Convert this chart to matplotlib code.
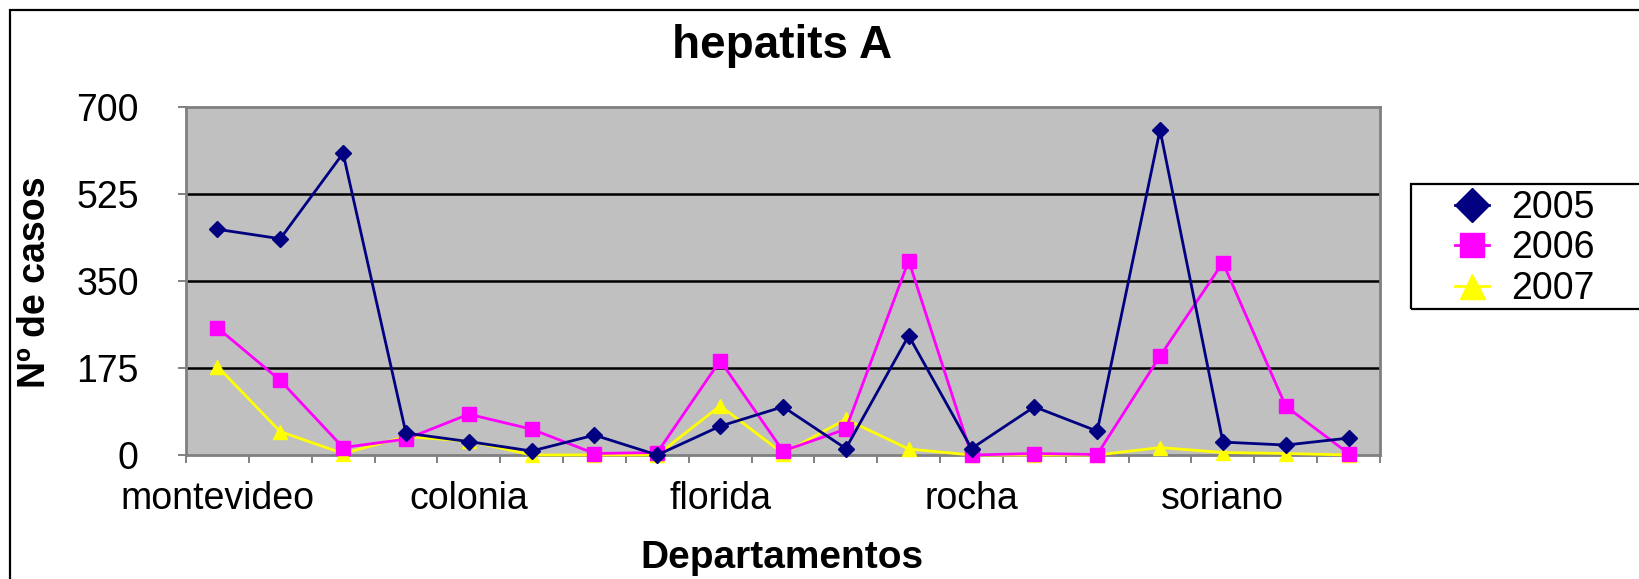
import matplotlib
matplotlib.use('Agg')
import matplotlib.pyplot as plt
from matplotlib.patches import Rectangle
import numpy as np

plt.rcParams['font.family'] = ['Liberation Sans', 'DejaVu Sans']

# ---- data ----
departamentos = ['montevideo', '', '', '', 'colonia', '', '', '', 'florida', '', '', '',
                 'rocha', '', '', '', 'soriano', '', '']
casos_2005 = [454, 435, 607, 44, 27, 8, 40, 0, 58, 97, 13, 240, 13, 97, 48, 654, 26, 20, 34]
casos_2006 = [256, 150, 15, 32, 82, 52, 3, 5, 190, 8, 52, 391, 0, 3, 1, 199, 387, 98, 3]
casos_2007 = [178, 47, 3, 37, 28, 0, 0, 0, 99, 3, 72, 12, 0, 0, 0, 15, 5, 3, 0]
anios = ['2005', '2006', '2007']
y_ticks = [0, 175, 350, 525, 700]

W, H = 1639, 579
fig = plt.figure(figsize=(W / 100, H / 100), dpi=100)
fig.patch.set_facecolor('white')

# outer chart border (cut off at right / bottom like the reference)
fig.add_artist(Rectangle((10 / W, -0.2), 2.0, 1.2 - 10 / H, transform=fig.transFigure,
                         fill=False, edgecolor='black', lw=1.6))

left, right = 186 / W, 1380 / W
bottom, top = 1 - 455 / H, 1 - 107 / H
ax = fig.add_axes([left, bottom, right - left, top - bottom])
ax.set_facecolor('#C0C0C0')

x = np.arange(len(departamentos))
series = [casos_2005, casos_2006, casos_2007]
colors = ['#000080', '#FF00FF', '#FFFF00']
markers = ['D', 's', '^']
msizes = [8.2, 9.6, 10.5]
zorders = [6, 5, 4]
lines = []
for vals, c, m, ms, z, lab in zip(series, colors, markers, msizes, zorders, anios):
    ln, = ax.plot(x, vals, color=c, marker=m, markersize=ms, markerfacecolor=c,
                  markeredgecolor=c, lw=2.0, zorder=z, clip_on=False, label=lab)
    lines.append(ln)

ax.set_xlim(-0.5, len(departamentos) - 0.5)
ax.set_ylim(0, 700)
ax.set_yticks(y_ticks)
ax.set_yticklabels([str(v) for v in y_ticks])
for v in y_ticks[1:-1]:
    ax.axhline(v, color='black', lw=1.8, zorder=1)

ax.set_xticks(x)
ax.set_xticklabels(departamentos)
ax.set_xticks(np.arange(-0.5, len(departamentos)), minor=True)
ax.tick_params(axis='x', which='major', length=0, pad=19, labelsize=27)
ax.tick_params(axis='x', which='minor', length=6, width=1.4, color='#808080', direction='out')
ax.tick_params(axis='y', which='major', length=6, width=1.4, color='#808080',
               direction='out', pad=28, labelsize=27)

for s in ax.spines.values():
    s.set_color('#808080')
    s.set_linewidth(2.0)

fig.text(782 / W, 1 - 46 / H, 'hepatits A', ha='center', va='center',
         fontsize=33, fontweight='bold')
fig.text(35 / W, 1 - 282 / H, 'Nº de casos', ha='center', va='center',
         rotation=90, fontsize=27, fontweight='bold')
fig.text(782 / W, 3 / H, 'Departamentos', ha='center', va='bottom',
         fontsize=28, fontweight='bold')

# legend
fig.add_artist(Rectangle((1411 / W, 1 - 309 / H), 0.5, (309 - 184) / H,
                         transform=fig.transFigure, fill=False, edgecolor='black', lw=1.6))
leg = fig.legend(handles=lines, labels=anios, loc='upper left',
                 bbox_to_anchor=(1455 / W, 1 - 190 / H), frameon=False,
                 fontsize=27, handlelength=0.9, handletextpad=0.6,
                 labelspacing=0.12, borderpad=0, borderaxespad=0)
for h, ms in zip(leg.legend_handles, [17, 17, 18]):
    h.set_markersize(ms)

fig.savefig('out.png', dpi=100)
